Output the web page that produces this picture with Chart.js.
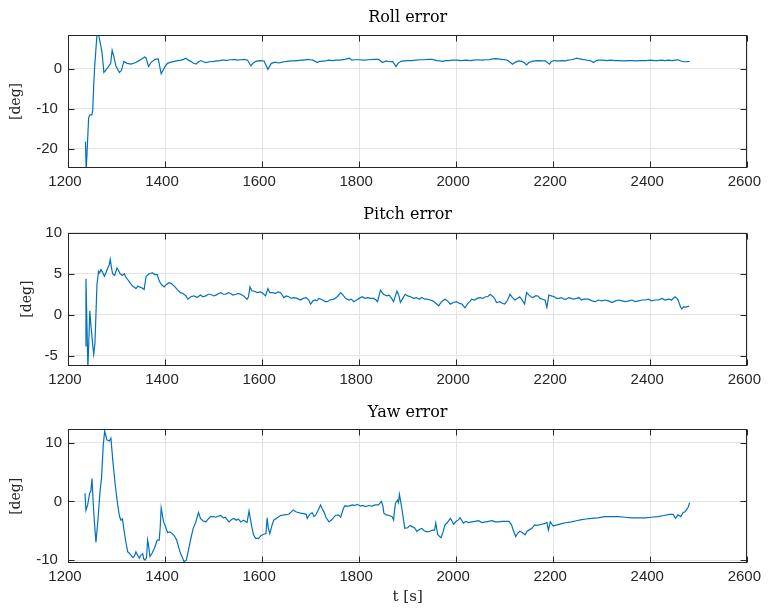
<!DOCTYPE html>
<html><head><meta charset="utf-8">
<script src="https://cdn.jsdelivr.net/npm/chart.js@4.4.0/dist/chart.umd.min.js"></script>
<style>
html,body{margin:0;padding:0;background:#fff;}
#wrap{position:relative;width:769px;height:613px;overflow:hidden;background:#fff;}
canvas{position:absolute;left:0;}
</style></head><body>
<div id="wrap">
<canvas id="c1" width="769" height="200" style="top:0px"></canvas>
<canvas id="c2" width="769" height="200" style="top:200px"></canvas>
<canvas id="c3" width="769" height="213" style="top:400px"></canvas>
</div>
<script>
// ---- tick labels ----
const xTicks = [1200, 1400, 1600, 1800, 2000, 2200, 2400, 2600];
const rollTicks = [-20, -10, 0];
const pitchTicks = [-5, 0, 5, 10];
const yawTicks = [-10, 0, 10];

// ---- Roll error [deg]: [t (s), value] ----
const rollData = [
[1236,-18.2],[1237.5,-25.5],[1238.5,-25.5],[1240,-19.0],[1242.5,-12.3],[1245,-11.5],[1249,-11.5],[1251,-10.3],[1253,-4.0],[1255,0.6],
[1256.5,3.1],[1259.5,8.3],[1263,8.6],[1266,6.8],[1270,4.2],[1274,-0.9],[1281,0.2],[1288,1.4],[1291,4.7],[1294.5,3.1],
[1299,0.6],[1306,-0.9],[1310,-0.4],[1315,1.9],[1322,1.4],[1330,1.2],[1337,1.5],[1344,1.9],[1351,2.4],[1358,3.0],
[1361,2.7],[1366,0.6],[1371,1.6],[1379,2.4],[1386,2.5],[1392,-1.2],[1399,0.4],[1405,1.4],[1412,1.7],[1419,1.9],
[1426,2.1],[1433,2.2],[1438,2.4],[1443,2.7],[1448,2.2],[1453,1.9],[1458,1.5],[1464,1.2],[1469,1.8],[1474,2.1],
[1479,1.8],[1484,1.6],[1492,1.8],[1501,1.9],[1506,2.0],[1511,2.0],[1516,2.2],[1522,2.2],[1527,2.1],[1532,2.3],
[1537,2.3],[1542,2.4],[1549,2.2],[1556,2.3],[1563,2.4],[1570,2.2],[1577,0.8],[1582,1.5],[1587,1.9],[1595,2.1],
[1604,2.0],[1612,-0.1],[1619,1.4],[1624,1.6],[1628,1.7],[1633,1.5],[1638,1.6],[1645,1.8],[1652,1.9],[1659,2.0],
[1666,2.0],[1673,2.1],[1680,2.2],[1687,2.2],[1693,2.4],[1699,2.3],[1705,2.2],[1714,1.6],[1718,1.9],[1722,1.9],
[1730,2.0],[1737,2.2],[1745,2.1],[1752,2.2],[1760,2.2],[1770,2.4],[1780,2.7],[1785,2.2],[1790,2.3],[1800,2.3],
[1810,2.2],[1820,2.3],[1830,2.4],[1840,2.4],[1848,1.6],[1856,2.0],[1862,1.8],[1869,1.9],[1876,0.6],[1880,1.4],
[1886,1.9],[1893,2.0],[1900,2.1],[1908,2.1],[1917,2.2],[1926,2.3],[1935,2.3],[1943,2.4],[1951,2.4],[1960,2.1],
[1966,2.0],[1972,1.9],[1978,2.1],[1985,2.1],[1992,2.2],[2000,2.2],[2010,2.1],[2020,2.2],[2028,2.1],[2037,2.2],
[2045,2.3],[2054,2.2],[2061,2.3],[2068,2.3],[2075,2.5],[2081,2.6],[2087,2.5],[2093,2.4],[2100,2.3],[2105,2.2],
[2110,1.8],[2116,1.2],[2122,1.7],[2129,2.0],[2135,1.9],[2140,1.6],[2145,1.0],[2150,1.6],[2157,1.9],[2163,2.0],
[2170,2.1],[2177,2.0],[2184,2.0],[2188,1.6],[2192,1.2],[2196,1.8],[2201,2.1],[2207,2.0],[2213,2.0],[2219,2.1],
[2225,2.0],[2231,2.2],[2237,2.3],[2243,2.5],[2249,2.7],[2254,2.5],[2260,2.4],[2265,2.3],[2269,2.2],[2276,2.1],
[2283,1.6],[2287,2.0],[2293,2.2],[2301,2.2],[2310,2.1],[2319,2.2],[2328,2.1],[2336,2.1],[2345,2.0],[2354,2.1],
[2363,2.1],[2372,2.0],[2382,2.1],[2391,2.1],[2400,2.2],[2408,2.1],[2415,2.1],[2423,2.2],[2430,2.1],[2438,2.2],
[2445,2.1],[2452,2.2],[2458,2.3],[2463,2.0],[2468,1.8],[2474,1.8],[2481,1.9]
];

// ---- Pitch error [deg]: [t (s), value] ----
const pitchData = [
[1235.7,-3.8],[1237,4.4],[1241,-6.5],[1245,0.5],[1247.4,-1.4],[1251.5,-4.0],[1253,-4.8],[1255.6,-3.4],[1259.7,3.7],[1263,5.3],
[1265,5.1],[1268,5.5],[1271,5.2],[1275,4.7],[1278,5.1],[1282,5.7],[1285,6.1],[1287,6.75],[1290,5.6],[1292,5.0],
[1296,4.8],[1301,5.7],[1304,5.4],[1307.6,5.0],[1312,4.8],[1316,5.0],[1319,4.6],[1323,4.3],[1328,3.9],[1333,3.5],
[1336,3.4],[1340,3.2],[1344,3.5],[1347,3.4],[1352,3.3],[1357,3.1],[1361,4.7],[1367,5.0],[1374,5.1],[1379,4.9],
[1384,4.9],[1387,4.3],[1390,3.9],[1394,3.6],[1398,3.4],[1403,3.7],[1408,3.9],[1413,3.8],[1419,3.5],[1425,3.1],
[1432,2.7],[1437,2.6],[1443,2.3],[1447,1.9],[1453,2.2],[1460,2.3],[1466,2.1],[1473,2.4],[1478,2.2],[1484,2.3],
[1489,2.5],[1494,2.5],[1500,2.3],[1505,2.4],[1510,2.6],[1515,2.7],[1520,2.5],[1525,2.5],[1530,2.7],[1535,2.6],
[1540,2.4],[1546,2.5],[1551,2.6],[1556,2.5],[1562,2.3],[1569,1.9],[1572,2.2],[1575,3.4],[1579,2.9],[1583,2.9],
[1590,2.7],[1597,2.8],[1602,2.6],[1607,2.3],[1612,3.2],[1616,2.7],[1621,2.7],[1628,2.6],[1633,2.8],[1638,2.7],
[1645,2.1],[1650,2.3],[1655,2.2],[1660,2.0],[1665,2.1],[1672,2.0],[1679,1.8],[1685,2.0],[1691,2.1],[1696,1.8],
[1700,1.3],[1705,1.7],[1709,1.8],[1713,1.7],[1717,2.0],[1721,1.9],[1725,1.8],[1730,1.6],[1734,1.6],[1740,1.8],
[1748,1.9],[1755,2.2],[1762,2.7],[1767,2.4],[1772,2.0],[1779,1.8],[1784,1.9],[1789,1.6],[1795,1.8],[1800,2.0],
[1806,2.2],[1812,2.0],[1818,2.1],[1824,2.0],[1830,2.0],[1835,1.8],[1838,1.6],[1844,3.0],[1850,2.5],[1857,2.3],
[1862,2.4],[1867,2.0],[1871,1.6],[1878,2.9],[1882,2.3],[1885,1.5],[1890,2.0],[1895,2.5],[1900,2.3],[1906,2.2],
[1912,2.0],[1918,2.1],[1924,1.9],[1929,2.1],[1935,1.9],[1940,1.9],[1946,1.8],[1952,1.7],[1958,1.4],[1964,1.1],
[1970,1.6],[1977,1.9],[1982,1.7],[1988,1.3],[1994,1.5],[2001,1.6],[2006,1.4],[2012,1.3],[2018,0.85],[2024,1.4],
[2028,1.6],[2032,1.9],[2038,1.8],[2043,2.0],[2049,2.1],[2055,2.0],[2060,2.2],[2065,2.2],[2070,2.5],[2076,2.2],
[2080,1.9],[2083,1.5],[2090,1.6],[2095,1.4],[2100,1.3],[2106,1.8],[2111,2.5],[2116,2.1],[2121,1.8],[2126,2.0],
[2131,2.2],[2136,1.8],[2141,1.3],[2145,2.7],[2150,2.4],[2154,2.2],[2158,2.1],[2163,2.3],[2168,2.3],[2173,2.0],
[2178,1.9],[2183,1.8],[2187,0.9],[2191,2.4],[2196,2.3],[2202,2.2],[2207,2.0],[2212,2.0],[2217,2.1],[2222,1.9],
[2227,1.9],[2232,2.1],[2237,2.0],[2242,1.9],[2248,2.0],[2253,2.1],[2258,1.8],[2263,1.9],[2268,1.9],[2273,1.9],
[2280,1.7],[2287,1.6],[2293,1.8],[2300,1.7],[2307,1.8],[2314,1.7],[2321,1.5],[2328,1.7],[2335,1.8],[2342,1.7],
[2349,1.6],[2356,1.7],[2362,1.8],[2369,1.6],[2376,1.7],[2383,1.8],[2390,1.8],[2396,1.9],[2403,1.7],[2410,1.8],
[2417,1.8],[2424,2.0],[2431,1.8],[2438,1.9],[2444,1.8],[2451,2.2],[2455,2.0],[2458,1.7],[2462,1.0],[2465,0.7],
[2469,1.0],[2472,0.9],[2476,1.0],[2480,1.05]
];

// ---- Yaw error [deg]: [t (s), value] ----
const yawData = [
[1235,1.4],[1237,-1.5],[1240.5,-0.6],[1244.6,1.4],[1247,1.7],[1249.4,3.9],[1253,-1.8],[1257.6,-7.0],[1262,-2.9],[1266,1.7],
[1269,3.9],[1272.7,9.6],[1275.5,12.0],[1278,11.2],[1280,10.5],[1285,10.3],[1288.5,10.8],[1292,7.3],[1296.7,3.3],[1300,1.0],
[1303.5,-1.2],[1306,-2.5],[1309,-3.2],[1312,-3.0],[1316,-5.2],[1319,-6.8],[1323,-8.6],[1326,-8.8],[1330,-9.2],[1334,-9.6],
[1337,-9.3],[1340,-8.6],[1343,-9.1],[1347,-9.7],[1350,-9.2],[1354,-8.9],[1356,-9.8],[1359,-10.0],[1362,-9.5],[1364,-6.6],
[1366,-7.5],[1369,-9.4],[1373,-8.9],[1378,-8.0],[1381,-7.3],[1384,-6.6],[1388,-6.6],[1390,-4.5],[1392,-1.1],[1397,-3.5],
[1401,-4.3],[1405,-5.3],[1410,-5.2],[1415,-5.5],[1420,-6.0],[1424,-6.6],[1428,-7.8],[1432,-8.9],[1436,-9.6],[1439,-10.3],
[1444,-10.0],[1446,-9.2],[1449,-8.0],[1453,-6.4],[1458,-4.6],[1463,-3.6],[1469,-1.9],[1473,-2.9],[1478,-3.3],[1484,-3.5],
[1489,-3.0],[1494,-2.6],[1500,-2.6],[1505,-2.7],[1510,-2.5],[1515,-2.4],[1520,-2.8],[1524,-2.7],[1528,-3.1],[1532,-3.5],
[1537,-3.1],[1542,-2.9],[1547,-3.2],[1551,-3.0],[1556,-3.5],[1562,-3.2],[1569,-3.6],[1573,-1.65],[1578,-4.0],[1582,-5.6],
[1586.5,-6.3],[1593,-6.3],[1598,-5.8],[1603.6,-5.6],[1608,-5.5],[1610.4,-2.8],[1613,-4.6],[1616,-5.5],[1620,-4.2],[1624,-3.2],
[1631,-2.8],[1638,-2.4],[1646,-2.3],[1655,-2.2],[1660,-1.8],[1664,-1.45],[1671,-1.8],[1679,-2.0],[1686,-2.1],[1691,-2.2],
[1693,-2.9],[1698,-2.2],[1703,-1.9],[1707,-2.6],[1710,-2.4],[1715,-1.6],[1720.5,-0.6],[1724,-1.3],[1727,-1.7],[1732,-2.8],
[1738,-3.5],[1744,-3.1],[1751,-2.4],[1757,-2.3],[1762,-2.7],[1766,-1.6],[1770,-0.75],[1778,-0.8],[1786,-0.6],[1791,-0.7],
[1796,-0.5],[1803,-0.8],[1808,-0.7],[1813,-0.9],[1820,-0.7],[1826,-0.8],[1833,-0.6],[1840,-0.6],[1846,0.0],[1849,-0.8],
[1851,-2.0],[1856,-2.3],[1862,-2.4],[1868,-2.6],[1871,-3.2],[1873,-1.5],[1875,-0.3],[1879,0.2],[1881,-0.2],[1883,1.2],
[1888,-1.2],[1894,-4.6],[1900,-4.5],[1905,-4.1],[1909,-4.3],[1914,-4.5],[1919,-5.1],[1924,-4.8],[1929,-4.6],[1934,-5.0],
[1940,-5.2],[1946,-5.1],[1951,-4.9],[1955.5,-4.9],[1958,-3.7],[1962,-5.7],[1966,-6.0],[1969,-6.2],[1973,-5.2],[1977,-4.0],
[1982,-3.6],[1988,-2.9],[1991,-3.3],[1994.5,-3.9],[2000,-3.4],[2004,-3.2],[2008,-2.8],[2012,-3.3],[2015,-3.7],[2020,-3.4],
[2026,-3.6],[2032,-3.5],[2039,-3.4],[2046,-3.3],[2053,-3.6],[2060,-3.5],[2067,-3.4],[2074,-3.3],[2080,-3.5],[2087,-3.5],
[2095,-3.4],[2102,-3.4],[2109,-3.4],[2114,-4.0],[2118,-5.0],[2122.6,-6.0],[2127,-5.4],[2131.5,-5.1],[2136,-5.3],[2142,-5.7],
[2146,-5.1],[2150,-4.9],[2156,-4.6],[2162,-4.0],[2168,-4.1],[2176,-3.9],[2182,-3.8],[2187,-3.6],[2190,-4.9],[2194,-3.5],
[2200,-4.2],[2208,-4.0],[2217.5,-3.8],[2228,-3.6],[2238,-3.5],[2248,-3.3],[2258.6,-3.1],[2268,-3.0],[2279,-2.9],[2292,-2.8],
[2306.6,-2.6],[2320,-2.6],[2334,-2.6],[2348,-2.7],[2361,-2.8],[2375,-2.8],[2389,-2.8],[2402,-2.7],[2416,-2.6],[2428,-2.4],
[2440,-2.2],[2447,-2.2],[2452,-2.9],[2457,-2.3],[2463,-2.6],[2467.6,-1.9],[2471,-1.8],[2474,-1.5],[2478,-1.0],[2481,-0.2]
];

const INK = '#262626';
const GRID = '#e3e3e3';
const LINE = '#0072BD';
const SANS = "'Liberation Sans', Arial, sans-serif";
const SERIF = "'DejaVu Serif', serif";

const boxPlugin = {
  id: 'boxTicks',
  afterDatasetsDraw(chart) {
    const {ctx, chartArea: a, scales: {x, y}} = chart;
    ctx.save();
    ctx.strokeStyle = INK;
    ctx.lineWidth = 1;
    const L = Math.round(a.left) + 0.5, R = Math.round(a.right) - 0.5;
    const T = Math.round(a.top) + 0.5, B = Math.round(a.bottom) - 0.5;
    ctx.beginPath();
    x.ticks.forEach(t => {
      const p = Math.round(x.getPixelForValue(t.value)) + 0.5;
      ctx.moveTo(p, B); ctx.lineTo(p, B - 6);
      ctx.moveTo(p, T); ctx.lineTo(p, T + 6);
    });
    y.ticks.forEach(t => {
      const p = Math.round(y.getPixelForValue(t.value)) + 0.5;
      ctx.moveTo(L, p); ctx.lineTo(L + 6, p);
      ctx.moveTo(R, p); ctx.lineTo(R - 6, p);
    });
    ctx.stroke();
    ctx.strokeRect(L, T, R - L, B - T);
    ctx.restore();
  }
};

function makePanel(id, cfg) {
  const pts = cfg.data.map(p => ({x: p[0], y: p[1]}));
  return new Chart(document.getElementById(id), {
    type: 'line',
    data: { datasets: [{ data: pts, borderColor: LINE, borderWidth: 1.2, pointRadius: 0, tension: 0, fill: false, clip: 0 }] },
    options: {
      responsive: false, animation: false, devicePixelRatio: 1,
      layout: { padding: { left: 0, right: 20, top: 0, bottom: 0 } },
      plugins: {
        legend: { display: false }, tooltip: { enabled: false },
        title: { display: true, text: cfg.title, fullSize: false, color: '#000',
                 font: { family: SERIF, size: 16, weight: 'normal', lineHeight: 1.2 },
                 padding: cfg.titlePad }
      },
      scales: {
        x: {
          type: 'linear', min: 1200, max: 2600,
          afterBuildTicks: s => { s.ticks = xTicks.map(v => ({value: v})); },
          afterFit: s => { s.height = cfg.xH; },
          grid: { color: GRID, lineWidth: 1, drawTicks: false },
          border: { display: false },
          ticks: { color: INK, font: { family: SANS, size: 15 }, padding: 5, labelOffset: -3, maxRotation: 0, autoSkip: false,
                   callback: v => String(v) },
          title: cfg.xTitle ? { display: true, text: 't [s]', color: INK, font: { family: SERIF, size: 15, lineHeight: 1.2 }, padding: { top: 0, bottom: 7 } } : { display: false }
        },
        y: {
          type: 'linear', min: cfg.yMin, max: cfg.yMax,
          afterBuildTicks: s => { s.ticks = cfg.yTicks.map(v => ({value: v})); },
          afterFit: s => { s.width = 68; },
          grid: { color: GRID, lineWidth: 1, drawTicks: false },
          border: { display: false },
          ticks: { color: INK, font: { family: SANS, size: 15 }, padding: 6, autoSkip: false,
                   callback: v => (v < 0 ? String(v) + ' ' : String(v)) },
          title: { display: true, text: '[deg]', color: INK, font: { family: SERIF, size: 14, lineHeight: 1.2 }, padding: { top: cfg.yTitlePad, bottom: 0 } }
        }
      }
    },
    plugins: [boxPlugin]
  });
}

makePanel('c1', { title: 'Roll error', data: rollData, yMin: -24.8, yMax: 8.5, yTicks: rollTicks,
  titlePad: { top: 8.5, bottom: 7.3 }, xH: 32, yTitlePad: 7.6, xTitle: false });
makePanel('c2', { title: 'Pitch error', data: pitchData, yMin: -6.2, yMax: 10, yTicks: pitchTicks,
  titlePad: { top: 5.5, bottom: 8 }, xH: 34.3, yTitlePad: 18.6, xTitle: false });
makePanel('c3', { title: 'Yaw error', data: yawData, yMin: -10.56, yMax: 12.3, yTicks: yawTicks,
  titlePad: { top: 3.5, bottom: 6.6 }, xH: 49.7, yTitlePad: 7.6, xTitle: true });
</script>
</body></html>
